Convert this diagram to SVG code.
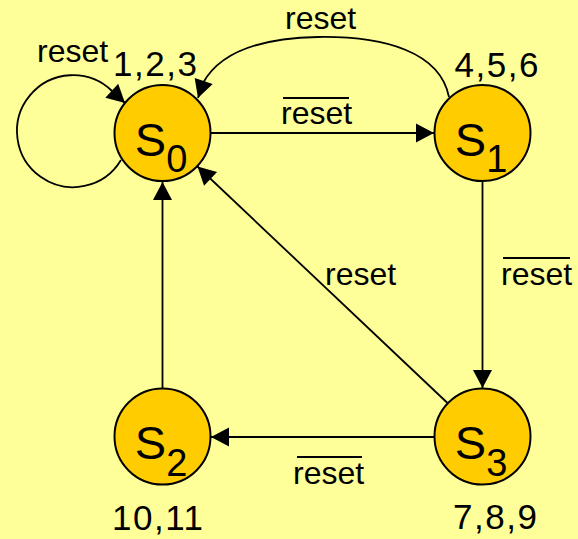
<svg xmlns="http://www.w3.org/2000/svg" width="578" height="539" viewBox="0 0 578 539">
  <style>
    .state circle { fill: #FFCC00; stroke: #000; stroke-width: 2; }
    .name { font-family: "Liberation Sans", Arial, sans-serif; font-size: 47px; fill: #000; }
    .sub { font-size: 38px; }
    .lbl { font-family: "Liberation Sans", Arial, sans-serif; font-size: 32px; fill: #000; }
    .num { font-family: "Liberation Sans", Arial, sans-serif; font-size: 35px; letter-spacing: 1.5px; fill: #000; }
    .edge { fill: none; stroke: #000; stroke-width: 1.8; }
    .bar { stroke: #000; stroke-width: 2; }
  </style>
  <defs>
    <marker id="arrow" viewBox="-19 -10 20 20" refX="0" refY="0" markerWidth="20" markerHeight="20" markerUnits="userSpaceOnUse" orient="auto">
      <path d="M0,0 L-18,-9.5 L-18,9.5 Z" fill="#000"/>
    </marker>
  </defs>

  <rect width="578" height="539" fill="#FFFF99"/>

  <!-- transitions -->
  <g id="connectors">
    <!-- S0 self loop -->
    <path class="edge" d="M121,160 A56,56 0 1 1 112,91 L125,103" marker-end="url(#arrow)"/>
    <!-- S1 back to S0 over the top -->
    <path class="edge" d="M449,97 C440,52 385,36 318,37 C262,38 220,52 203,83 L198,98" marker-end="url(#arrow)"/>
    <!-- S0 to S1 -->
    <path class="edge" d="M211,133 L434,133" marker-end="url(#arrow)"/>
    <!-- S1 to S3 -->
    <path class="edge" d="M482.5,182 L482.5,388" marker-end="url(#arrow)"/>
    <!-- S3 to S2 -->
    <path class="edge" d="M434,437 L211,437" marker-end="url(#arrow)"/>
    <!-- S2 to S0 -->
    <path class="edge" d="M162.5,388 L162.5,182" marker-end="url(#arrow)"/>
    <!-- S3 to S0 -->
    <path class="edge" d="M447.5,403 L197.5,166.5" marker-end="url(#arrow)"/>

    <!-- transition labels -->
    <text class="lbl" x="37" y="62">reset</text>
    <text class="lbl" x="285" y="29">reset</text>
    <text class="lbl" x="281" y="124">reset</text>
    <line class="bar" x1="283" y1="98" x2="349" y2="98"/>
    <text class="lbl" x="501" y="285">reset</text>
    <line class="bar" x1="503" y1="258" x2="570" y2="258"/>
    <text class="lbl" x="325" y="285">reset</text>
    <text class="lbl" x="293" y="484">reset</text>
    <line class="bar" x1="297" y1="457" x2="362" y2="457"/>
  </g>

  <!-- states -->
  <g id="S0" class="state">
    <circle cx="162.5" cy="133" r="48"/>
    <text class="name" x="134.8" y="155.5">S<tspan class="sub" dy="16.5">0</tspan></text>
    <text class="num" x="113" y="76">1,2,3</text>
  </g>
  <g id="S1" class="state">
    <circle cx="482.5" cy="133" r="48"/>
    <text class="name" x="454.8" y="155.5">S<tspan class="sub" dy="16.5">1</tspan></text>
    <text class="num" x="454.5" y="77">4,5,6</text>
  </g>
  <g id="S2" class="state">
    <circle cx="162.5" cy="436.5" r="48"/>
    <text class="name" x="134.8" y="459">S<tspan class="sub" dy="16.5">2</tspan></text>
    <text class="num" x="112" y="530">10,11</text>
  </g>
  <g id="S3" class="state">
    <circle cx="482.5" cy="436.5" r="48"/>
    <text class="name" x="454.8" y="459">S<tspan class="sub" dy="16.5">3</tspan></text>
    <text class="num" x="453" y="529">7,8,9</text>
  </g>
</svg>
